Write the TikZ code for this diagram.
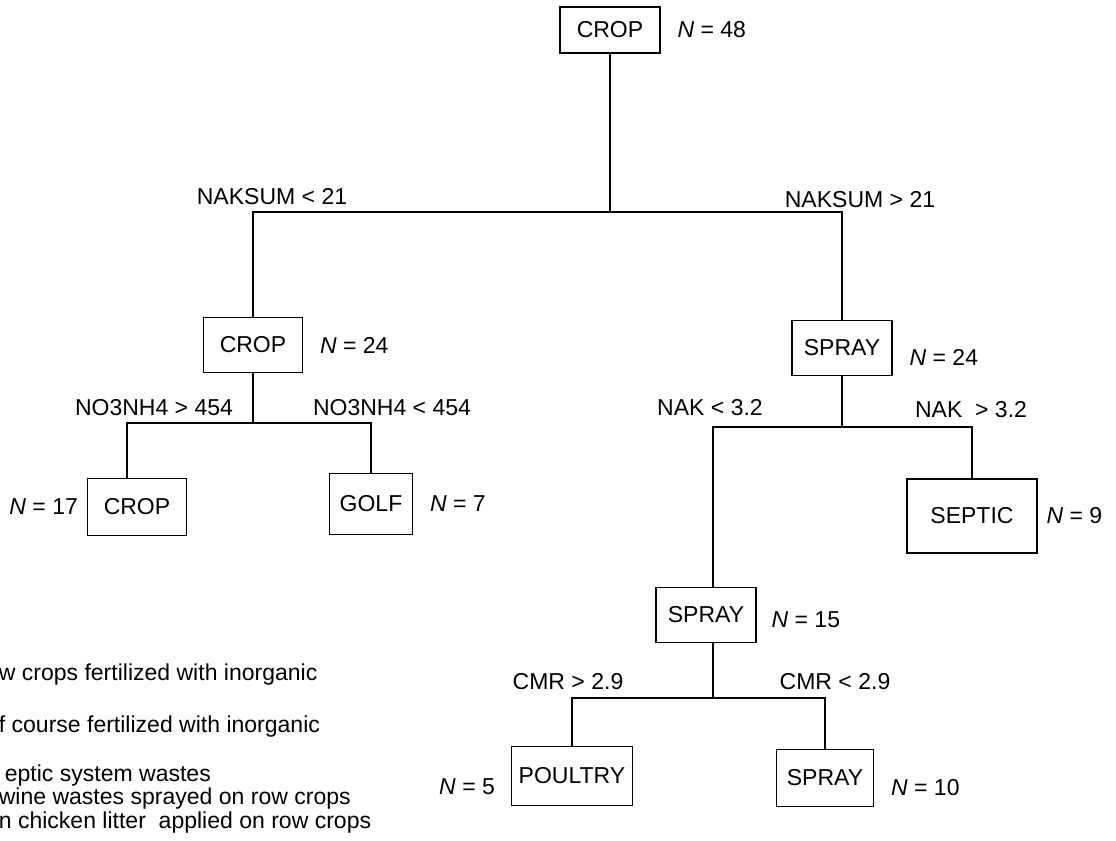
\documentclass[tikz,border=0pt]{standalone}
\usepackage{fontspec}
\setmainfont{Liberation Sans}
\usetikzlibrary{positioning}

\tikzset{
  leaf/.style={draw, line width=1pt, inner sep=0pt},
  keytext/.style={anchor=west, inner sep=0pt}
}

\begin{document}
\begin{tikzpicture}[x=0.02cm,y=-0.02cm,font=\fontsize{13.1}{15.5}\selectfont,
        line width=1pt,label distance=0.2cm]
  \useasboundingbox (0,0) rectangle (1116,841);

  % class boxes
  \node[leaf,minimum width=2cm,minimum height=0.92cm][label={[name=n48]right:\textit{N} = 48}] (crop0) at (610,30) {CROP};
  \node[leaf,minimum width=1.98cm,minimum height=1.1cm][label={[name=n24a]right:\textit{N} = 24}] (crop1) at (253,345) {CROP};
  \node[leaf,minimum width=2cm,minimum height=1.1cm][label={[name=n24b,yshift=-0.18cm]right:\textit{N} = 24}] (spray1) at (842,348) {SPRAY};
  \node[leaf,minimum width=1.98cm,minimum height=1.14cm][label={[name=n17,label distance=0.04cm]left:\textit{N} = 17}] (crop2) at (137,507) {CROP};
  \node[leaf,minimum width=1.66cm,minimum height=1.22cm][label={[name=n7]right:\textit{N} = 7}] (golf) at (371,504) {GOLF};
  \node[leaf,minimum width=2.6cm,minimum height=1.48cm][label={[name=n9,label distance=0.04cm]right:\textit{N} = 9}] (septic) at (972,516) {SEPTIC};
  \node[leaf,minimum width=2cm,minimum height=1.1cm][label={[name=n15,yshift=-0.1cm,label distance=0.16cm]right:\textit{N} = 15}] (spray2) at (706,615) {SPRAY};
  \node[leaf,minimum width=2.42cm,minimum height=1.18cm][label={[name=n5,yshift=-0.22cm,label distance=0.18cm]left:\textit{N} = 5}] (poultry) at (572,776) {POULTRY};
  \node[leaf,minimum width=1.94cm,minimum height=1.14cm][label={[name=n10,yshift=-0.2cm]right:\textit{N} = 10}] (spray3) at (825,778) {SPRAY};

  % split points
  \coordinate (split0) at (608,212);
  \coordinate (split1) at (253,423);
  \coordinate (split2) at (845,427);
  \coordinate (split3) at (713,698);

  \draw (crop0.south) -- (crop0.south |- split0);
  \draw (crop1.north) |- (split0) -| (spray1.north);
  \draw (crop1.south) -- (crop1.south |- split1);
  \draw ([xshift=-0.2cm]crop2.north) |- (split1) -| (golf.north);
  \draw (spray1.south) -- (spray1.south |- split2);
  \draw (split3 |- spray2.north) |- (split2) -| (septic.north);
  \draw (split3 |- spray2.south) -- (split3);
  \draw (poultry.north) |- (split3) -| (spray3.north);

  % split rules
  \node (rule0l) at (272,197) {NAKSUM < 21};
  \node (rule0r) at (860,200) {NAKSUM > 21};
  \node (rule1l) at (154,408) {NO3NH4 > 454};
  \node (rule1r) at (392,408) {NO3NH4 < 454};
  \node (rule2l) at (710,408) {NAK < 3.2};
  \node (rule2r) at (971,410) {NAK\ \ > 3.2};
  \node (rule3l) at (568,682) {CMR > 2.9};
  \node (rule3r) at (835,682) {CMR < 2.9};

  % key (cut off on the left)
  \node[keytext] (key1) at (-2,675) {w crops fertilized with inorganic};
  \node[keytext] (key2) at (-2,727) {f course fertilized with inorganic};
  \node[keytext] (key3) at (4,776) {eptic system wastes};
  \node[keytext] (key4) at (-2,799) {wine wastes sprayed on row crops};
  \node[keytext] (key5) at (-2,823) {n chicken litter\ \ applied on row crops};
\end{tikzpicture}
\end{document}
